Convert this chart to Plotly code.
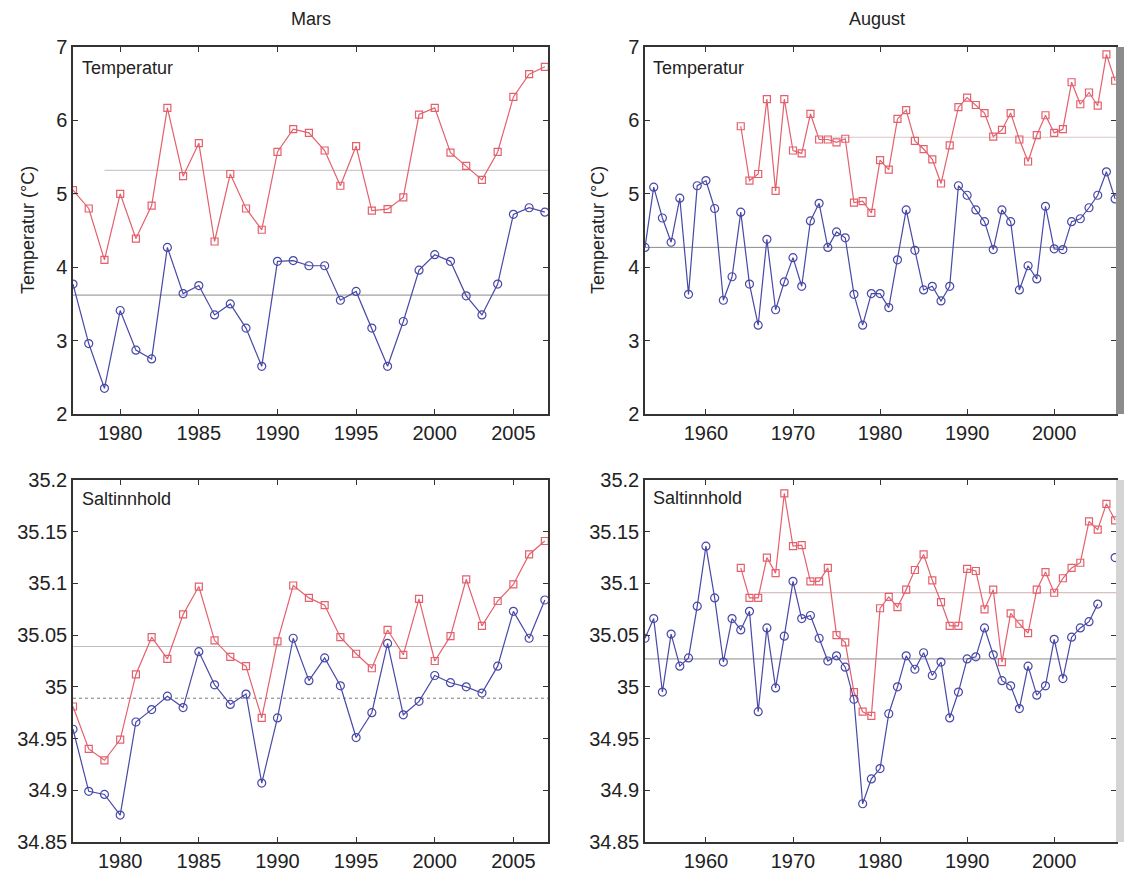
import plotly.graph_objects as go

# --- data ---
years_mars = list(range(1977, 2008))
temp_mars_red = [5.05, 4.80, 4.10, 5.00, 4.39, 4.84, 6.17, 5.24, 5.69, 4.35, 5.27, 4.80, 4.51, 5.57, 5.88,
                 5.83, 5.59, 5.11, 5.65, 4.77, 4.79, 4.95, 6.08, 6.17, 5.56, 5.38, 5.19, 5.57, 6.32, 6.63, 6.73]
temp_mars_blue = [3.77, 2.96, 2.35, 3.41, 2.87, 2.75, 4.27, 3.64, 3.75, 3.35, 3.50, 3.17, 2.65, 4.08, 4.09,
                  4.02, 4.02, 3.55, 3.67, 3.17, 2.65, 3.26, 3.96, 4.17, 4.08, 3.61, 3.35, 3.77, 4.72, 4.81, 4.75]
salt_mars_red = [34.981, 34.940, 34.929, 34.949, 35.012, 35.048, 35.027, 35.070, 35.097, 35.045, 35.029,
                 35.020, 34.970, 35.044, 35.098, 35.086, 35.079, 35.048, 35.032, 35.018, 35.055, 35.031,
                 35.085, 35.025, 35.049, 35.104, 35.059, 35.083, 35.099, 35.128, 35.141]
salt_mars_blue = [34.959, 34.899, 34.896, 34.876, 34.966, 34.978, 34.991, 34.980, 35.034, 35.002, 34.983,
                  34.993, 34.907, 34.970, 35.047, 35.006, 35.028, 35.001, 34.951, 34.975, 35.042, 34.973,
                  34.986, 35.011, 35.004, 35.000, 34.994, 35.020, 35.073, 35.047, 35.084]

years_aug_blue = list(range(1953, 2008))
years_aug_red = list(range(1964, 2008))
temp_aug_blue = [4.27, 5.09, 4.67, 4.34, 4.94, 3.63, 5.11, 5.18, 4.80, 3.55, 3.87, 4.75, 3.77, 3.21, 4.38,
                 3.42, 3.80, 4.13, 3.74, 4.63, 4.87, 4.27, 4.48, 4.40, 3.63, 3.21, 3.64, 3.64, 3.45, 4.10,
                 4.78, 4.23, 3.69, 3.74, 3.54, 3.74, 5.11, 4.98, 4.78, 4.62, 4.24, 4.78, 4.62, 3.69, 4.02,
                 3.84, 4.83, 4.25, 4.24, 4.62, 4.66, 4.81, 4.98, 5.30, 4.93]
temp_aug_red = [5.92, 5.18, 5.27, 6.29, 5.04, 6.29, 5.59, 5.55, 6.09, 5.74, 5.74, 5.70, 5.75, 4.88, 4.90,
                4.74, 5.46, 5.33, 6.02, 6.14, 5.72, 5.61, 5.47, 5.14, 5.66, 6.18, 6.31, 6.21, 6.10, 5.78,
                5.87, 6.10, 5.74, 5.44, 5.80, 6.07, 5.83, 5.88, 6.52, 6.22, 6.38, 6.20, 6.90, 6.54]
salt_aug_blue = [35.047, 35.066, 34.995, 35.051, 35.020, 35.028, 35.078, 35.136, 35.086, 35.024, 35.066,
                 35.055, 35.073, 34.976, 35.057, 34.999, 35.049, 35.102, 35.066, 35.069, 35.047, 35.025,
                 35.030, 35.019, 34.988, 34.887, 34.911, 34.921, 34.974, 35.000, 35.030, 35.017, 35.033,
                 35.011, 35.024, 34.970, 34.995, 35.027, 35.029, 35.057, 35.031, 35.006, 35.001, 34.979,
                 35.020, 34.992, 35.001, 35.046, 35.008, 35.048, 35.057, 35.063, 35.080, None, 35.125]
salt_aug_red = [35.115, 35.086, 35.086, 35.125, 35.110, 35.187, 35.136, 35.137, 35.102, 35.102, 35.115,
                35.050, 35.043, 34.995, 34.976, 34.972, 35.076, 35.087, 35.077, 35.094, 35.113, 35.128,
                35.103, 35.082, 35.059, 35.059, 35.114, 35.112, 35.075, 35.094, 35.024, 35.071, 35.061,
                35.052, 35.094, 35.111, 35.091, 35.105, 35.115, 35.120, 35.160, 35.152, 35.177, 35.161]

# mean lines: (x start, x end, level)
means = {
    "tl_red": (1979, 2007.2, 5.32), "tl_blue": (1977, 2007.2, 3.62),
    "tr_red": (1973, 2007.1, 5.77), "tr_blue": (1953, 2007.1, 4.27),
    "bl_red": (1977, 2007.2, 35.039), "bl_blue": (1977, 2007.2, 34.989),
    "br_red": (1966, 2007.1, 35.091), "br_blue": (1953, 2007.1, 35.027),
}

temp_ticks = [2, 3, 4, 5, 6, 7]
salt_ticks = [34.85, 34.9, 34.95, 35, 35.05, 35.1, 35.15, 35.2]
salt_ticktext = ["34.85", "34.9", "34.95", "35", "35.05", "35.1", "35.15", "35.2"]

RED = "#e4606c"
BLUE = "#4848a8"
W, H = 1124, 879
FONT = "Liberation Sans Narrow, Liberation Sans, Arial, sans-serif"

fig = go.Figure()

panels = {
    # name: (xaxis id, yaxis id, x px range, y px range)
    "tl": ("x", "y", (73, 548), (47, 414)),
    "tr": ("x2", "y2", (645, 1116), (47, 414)),
    "bl": ("x3", "y3", (73, 548), (480, 842)),
    "br": ("x4", "y4", (645, 1116), (480, 842)),
}


def add_series(panel, xs, ys, color, symbol, size):
    xa, ya = panels[panel][0], panels[panel][1]
    fig.add_trace(go.Scatter(
        x=xs, y=ys, mode="lines+markers", xaxis=xa, yaxis=ya,
        line=dict(color=color, width=1.2),
        marker=dict(symbol=symbol, size=size, color=color, line=dict(color=color, width=1.2)),
        showlegend=False, connectgaps=False,
    ))


def add_mean(panel, key, color, dash="solid"):
    xa, ya = panels[panel][0], panels[panel][1]
    x0, x1, lvl = means[key]
    fig.add_trace(go.Scatter(
        x=[x0, x1], y=[lvl, lvl], mode="lines", xaxis=xa, yaxis=ya,
        line=dict(color=color, width=1, dash=dash), showlegend=False, hoverinfo="skip",
    ))


add_mean("tl", "tl_red", "#bdbdbd")
add_mean("tl", "tl_blue", "#8a8a8a")
add_mean("tr", "tr_red", "#d8c8c8")
add_mean("tr", "tr_blue", "#8a8a8a")
add_mean("bl", "bl_red", "#bdbdbd")
add_mean("bl", "bl_blue", "#7a7a7a", "dot")
add_mean("br", "br_red", "#d0b0b0")
add_mean("br", "br_blue", "#8a8a8a")

add_series("tl", years_mars, temp_mars_red, RED, "square-open", 7)
add_series("tl", years_mars, temp_mars_blue, BLUE, "circle-open", 8)
add_series("tr", years_aug_red, temp_aug_red, RED, "square-open", 7)
add_series("tr", years_aug_blue, temp_aug_blue, BLUE, "circle-open", 8)
add_series("bl", years_mars, salt_mars_red, RED, "square-open", 7)
add_series("bl", years_mars, salt_mars_blue, BLUE, "circle-open", 8)
add_series("br", years_aug_red, salt_aug_red, RED, "square-open", 7)
add_series("br", years_aug_blue, salt_aug_blue, BLUE, "circle-open", 8)

axis_common = dict(
    showline=True, linecolor="#333", linewidth=1.5, mirror="ticks", automargin=False,
    ticks="inside", ticklen=5, tickcolor="#333", showgrid=False, zeroline=False,
    tickfont=dict(family=FONT, size=20, color="#222"),
)

xranges = {"tl": [1977, 2007.2], "tr": [1953, 2007.1], "bl": [1977, 2007.2], "br": [1953, 2007.1]}
xticks = {"tl": [1980, 1985, 1990, 1995, 2000, 2005], "tr": [1960, 1970, 1980, 1990, 2000]}
xticks["bl"], xticks["br"] = xticks["tl"], xticks["tr"]

layout = {}
for i, (name, (xa, ya, (px0, px1), (py0, py1))) in enumerate(panels.items()):
    xkey = "xaxis" if i == 0 else f"xaxis{i + 1}"
    ykey = "yaxis" if i == 0 else f"yaxis{i + 1}"
    layout[xkey] = dict(
        axis_common, domain=[px0 / W, px1 / W], anchor=ya, range=xranges[name],
        tickvals=xticks[name], ticktext=[str(v) for v in xticks[name]],
    )
    if name in ("tl", "tr"):
        ydict = dict(range=[2, 7], tickvals=temp_ticks, ticktext=[str(v) for v in temp_ticks])
    else:
        ydict = dict(range=[34.85, 35.2], tickvals=salt_ticks, ticktext=salt_ticktext)
    layout[ykey] = dict(axis_common, domain=[1 - py1 / H, 1 - py0 / H], anchor=xa, **ydict)

fig.update_layout(
    template="none",
    width=W, height=H, margin=dict(l=0, r=0, t=0, b=0, pad=0),
    paper_bgcolor="white", plot_bgcolor="white",
    font=dict(family=FONT, size=17, color="#222"),
    **layout,
)

# column titles, panel labels and y title
texts = [
    (311, 19, "Mars", "center"),
    (877, 19, "August", "center"),
    (80, 68, "Temperatur", "left"),
    (651, 68, "Temperatur", "left"),
    (80, 499, "Saltinnhold", "left"),
    (651, 498, "Saltinnhold", "left"),
]
for x, y, t, al in texts:
    fig.add_annotation(x=x / W, y=1 - y / H, xref="paper", yref="paper", text=t,
                       showarrow=False, xanchor=al, yanchor="middle",
                       font=dict(family=FONT, size=18, color="#222"))
for x in (28, 598):
    fig.add_annotation(x=x / W, y=1 - 230 / H, xref="paper", yref="paper",
                       text="Temperatur (°C)", textangle=-90, showarrow=False,
                       xanchor="center", yanchor="middle",
                       font=dict(family=FONT, size=18, color="#222"))

# greyish scan band at the right edge of the August panels
fig.add_shape(type="rect", xref="paper", yref="paper", x0=1116 / W, x1=1,
              y0=1 - 414 / H, y1=1 - 47 / H, fillcolor="#8c8c8c", line_width=0, layer="above")
fig.add_shape(type="rect", xref="paper", yref="paper", x0=1116 / W, x1=1,
              y0=1 - 842 / H, y1=1 - 480 / H, fillcolor="#d4d4d4", line_width=0, layer="above")

fig.write_html("out.html", config={"displayModeBar": False},
               post_script="document.body.style.margin='0px';")
